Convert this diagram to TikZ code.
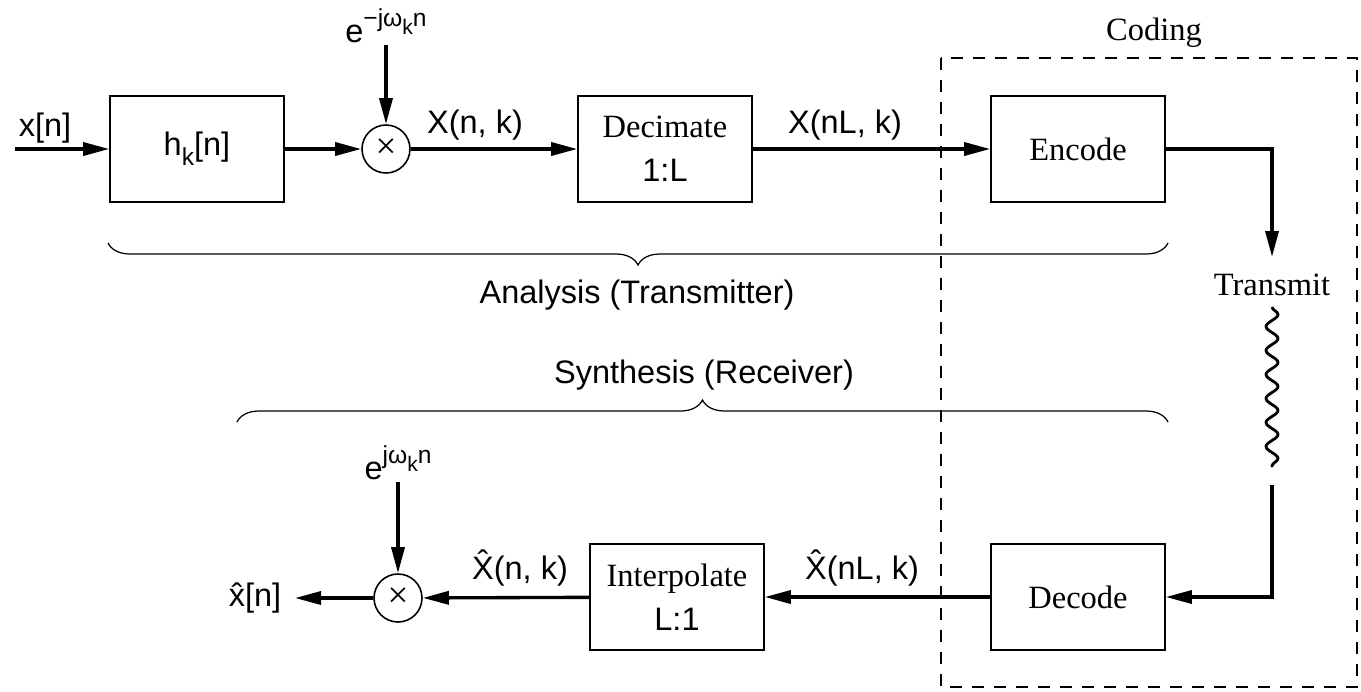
\documentclass[tikz,border=0pt]{standalone}
\usepackage{fontspec}
\setmainfont{Liberation Serif}
\setsansfont{Liberation Sans}
\usetikzlibrary{arrows.meta, positioning, calc, decorations.pathmorphing, decorations.pathreplacing}
\newcommand{\lbl}{\sffamily\fontsize{18.5}{22}\selectfont}
\newcommand{\blk}{\rmfamily\fontsize{18.5}{25}\selectfont}
\newcommand{\expw}[1]{e\raisebox{0.5em}{\fontsize{14}{14}\selectfont #1jω\raisebox{-0.3em}{\fontsize{12}{12}\selectfont k}n}}

\begin{document}
\begin{tikzpicture}[x=0.02cm, y=-0.02cm]
    \useasboundingbox (0,0) rectangle (1361,691);
    % Define styles
    \tikzstyle{block}=[rectangle, draw, line width=0.9pt, minimum width=3.48cm, minimum height=2.12cm, align=center, font=\blk]
    \tikzstyle{mixer}=[circle, draw, line width=0.9pt, minimum size=0.96cm, inner sep=0pt, font=\rmfamily\fontsize{21}{21}\selectfont]
    \tikzstyle{sig}=[font=\lbl, inner sep=1pt]
    \tikzstyle{flow}=[line width=1.9pt, -{Triangle[length=0.52cm, width=0.26cm]}]
    \tikzstyle{brc}=[decorate, decoration={brace, amplitude=0.44cm}, line width=0.7pt]
    \tikzstyle{wave}=[decorate, decoration={snake, segment length=0.48cm, amplitude=0.12cm}, line width=1.6pt]

    % Analysis row
    \node[sig] at (45,128) (xin) {x[n]};
    \coordinate (src) at (15,149);
    \node[block, font=\lbl] at (197,149) (hk) {h\raisebox{-0.3em}{\fontsize{14}{14}\selectfont k}[n]};
    \node[mixer] at (386,149) (mixA) {×};
    \node[sig] at (386,26) (expA) {\expw{−}};
    \node[block] at (665,149) (dec) {Decimate\\{\sffamily 1:L}};
    \node[block] at (1078,149) (enc) {Encode};
    \node[sig] at (475,125) (xnk) {X(n, k)};
    \node[sig] at (845,125) (xnlk) {X(nL, k)};

    \draw[flow] (src) -- (hk);
    \draw[flow] (hk) -- (mixA);
    \draw[flow] (expA) -- (mixA);
    \draw[flow] (mixA) -- (dec);
    \draw[flow] (dec) -- (enc);

    % Channel
    \node[font=\blk] at (1272,285) (tx) {Transmit};
    \coordinate (txin) at (1272,257);
    \coordinate (wtop) at (1272,307);
    \coordinate (wbot) at (1272,467);
    \coordinate (rxout) at (1272,485);
    \draw[flow] (enc.east) -| (txin);
    \draw[wave] (wtop) -- (wbot);

    % Synthesis row
    \node[block] at (1078,597) (decd) {Decode};
    \node[block] at (677,597) (interp) {Interpolate\\{\sffamily L:1}};
    \node[mixer] at (398,598) (mixS) {×};
    \node[sig] at (398,463) (expS) {\expw{}};
    \node[sig] at (255,598) (xout) {x̂[n]};
    \coordinate (dst) at (295,598);
    \node[sig] at (862,568) (xhnlk) {X̂(nL, k)};
    \node[sig] at (520,568) (xhnk) {X̂(n, k)};

    \draw[flow] (rxout) |- (decd);
    \draw[flow] (decd) -- (interp);
    \draw[flow] (interp) -- (mixS);
    \draw[flow] (expS) -- (mixS);
    \draw[flow] (mixS) -- (dst);

    % Braces
    \draw[brc, decoration={mirror}] (108,243) -- (1168,243);
    \node[sig] at (637,295) (ana) {Analysis (Transmitter)};
    \draw[brc] (237,422) -- (1168,422);
    \node[sig] at (704,375) (syn) {Synthesis (Receiver)};

    % Coding region
    \draw[line width=0.7pt, dash pattern=on 0.24cm off 0.2cm] (941,58) rectangle (1357,687);
    \node[font=\blk] at (1154,33) (cod) {Coding};
\end{tikzpicture}
\end{document}
